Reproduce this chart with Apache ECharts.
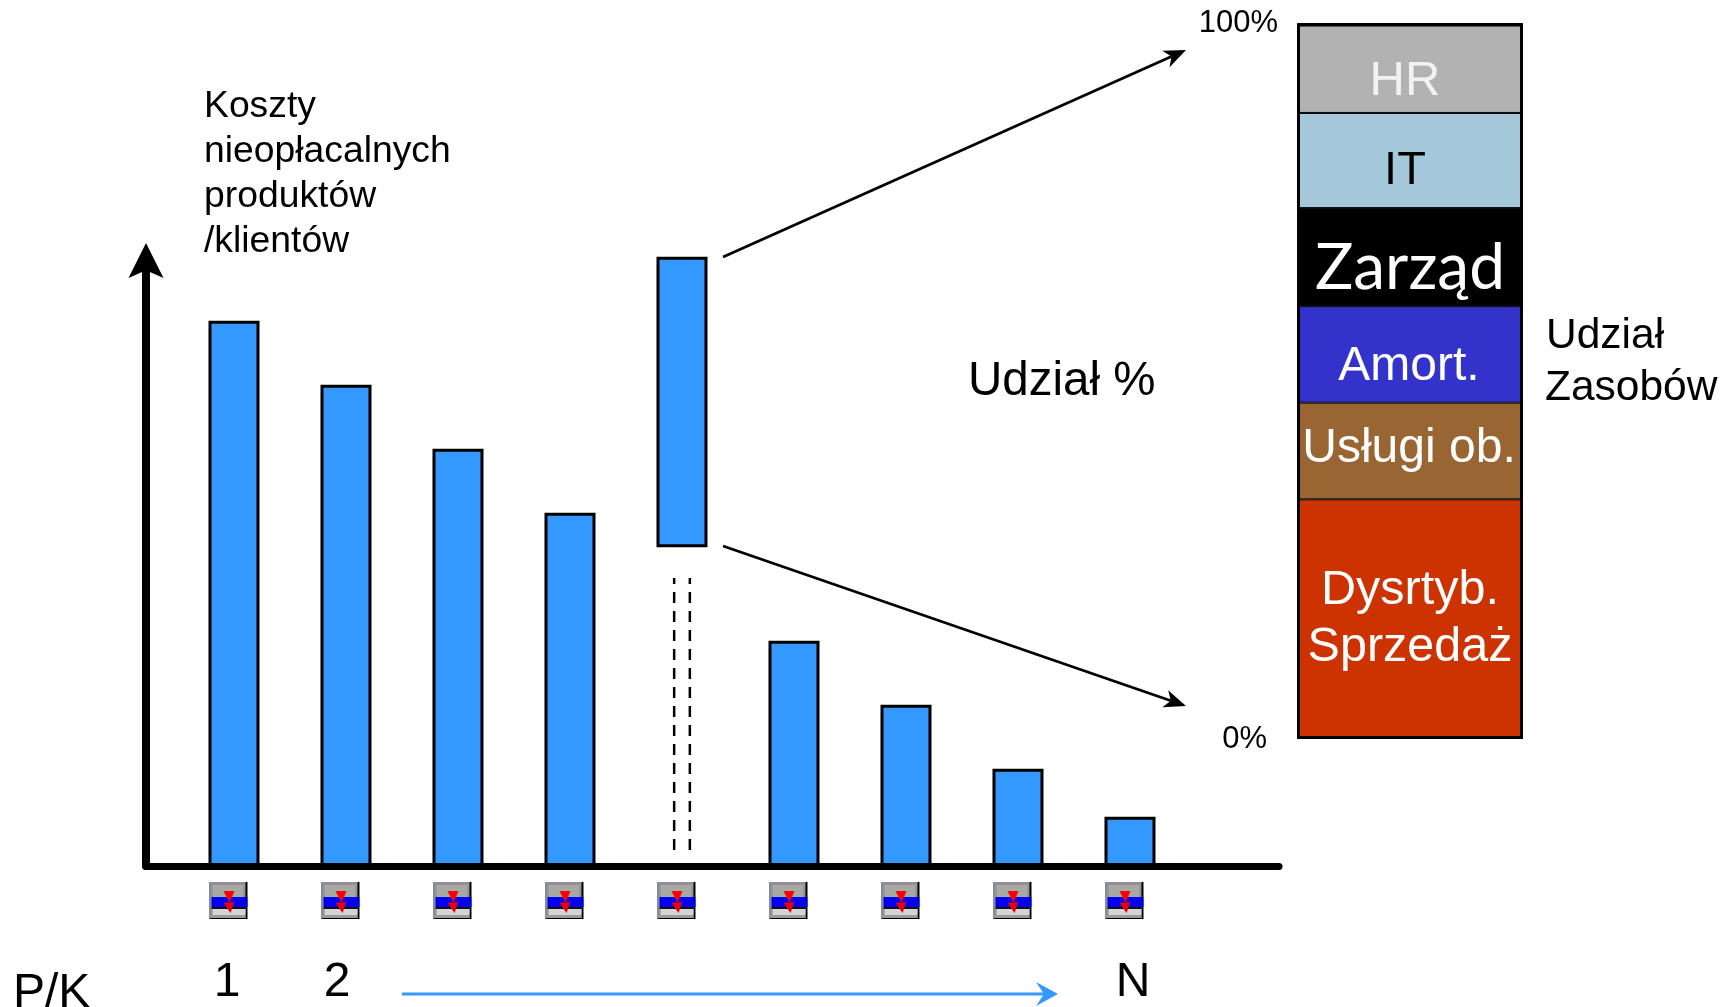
<!DOCTYPE html>
<html><head><meta charset="utf-8">
<style>html,body{margin:0;padding:0;background:#fff}#c{width:1725px;height:1007px}</style>
<script src="https://cdn.jsdelivr.net/npm/echarts@6/dist/echarts.min.js"></script>
</head><body><div id="c"></div>
<script>
const positions = [1,2,3,4,5,6,7,8,9];
const offsetBase = [0,0,0,0,49.8,0,0,0,0];
const costs = [85.2,75.2,65.2,55.2,45.4,35.2,25.2,15.2,7.7];
const dashA = [[4.93,2.5],[4.93,45]];
const dashB = [[5.07,2.5],[5.07,45]];
const segNames = ['Dysrtyb.\nSprzedaż','Usługi ob.','Amort.','Zarząd','IT','HR'];
const segValues = [33.5,13.5,13.5,13.7,13.3,12.6];
const segColors = ['#cc3300','#996633','#3333cc','#000000','#a6c8db','#b2b2b2'];
const segText = ['#fff','#fff','#fff','#fff','#000','#f2f2f2'];
const segFont = [48.5,48,48,64,47,49];
const segFamily = ['Liberation Sans','Liberation Sans','Liberation Sans','Lato','Liberation Sans','Liberation Sans'];
const segOffset = [[0,0],[-1,-2],[-1,12],[0,11],[-5,11],[-5,14]];

const FF = 'Liberation Sans';
function txt(text,x,y,size,align,extra){
  return {type:'text',silent:true,z:10,style:Object.assign({text,x,y,fontSize:size,fontFamily:FF,fill:'#000',
    textAlign:align||'left',textVerticalAlign:'middle'},extra||{})};
}
function arrow(x1,y1,x2,y2,color,lw,len,half,notch){
  const a=Math.atan2(y2-y1,x2-x1),c=Math.cos(a),s=Math.sin(a);
  const bx=x2-len*c,by=y2-len*s,nx=x2-notch*c,ny=y2-notch*s;
  return [
    {type:'line',silent:true,shape:{x1,y1,x2:nx,y2:ny},style:{stroke:color,lineWidth:lw}},
    {type:'polygon',silent:true,shape:{points:[[x2,y2],[bx-half*s,by+half*c],[nx,ny],[bx+half*s,by-half*c]]},style:{fill:color}}
  ];
}
function icon(params,api){
  const p=api.coord([api.value(0),0]);
  const x=p[0]-24.5,y=p[1]+16;
  const r=(dx,dy,w,h,f)=>({type:'rect',shape:{x:x+dx,y:y+dy,width:w,height:h},style:{fill:f}});
  const t=(pts,f)=>({type:'polygon',shape:{points:pts.map(q=>[x+q[0],y+q[1]])},style:{fill:f}});
  return {type:'group',children:[
    r(0,0,38,37,'#000'),
    r(0,0,36,36,'#8f8f98'),
    r(3,3,31,12,'#a8a8a4'),
    r(2,15,36,10,'#0000f0'),
    r(2,25,34,2,'#111'),
    r(3,27,33,6,'#d4d4d4'),
    r(0,33,36,3,'#9a9a9a'),
    t([[14,9],[25,9],[20,21]],'#ff0000'),
    t([[14,21],[25,20],[21,31]],'#e80000')
  ]};
}
const stackSeries = segNames.map((n,i)=>({
  type:'bar',name:n,stack:'share',xAxisIndex:1,yAxisIndex:1,barWidth:'100%',
  data:[{value:segValues[i],name:n}],
  itemStyle:{color:segColors[i],borderColor:'#000',borderWidth:1},
  label:{show:true,position:'inside',offset:segOffset[i],formatter:n,color:segText[i],
    fontSize:segFont[i],fontFamily:segFamily[i],lineHeight:57}
}));
const option={
  animation:false,
  grid:[
    {left:146,top:262,width:1133,height:604},
    {left:1297,top:23.5,width:226,height:715.5}
  ],
  xAxis:[
    {type:'value',gridIndex:0,min:0.2143,max:10.3304,splitLine:{show:false},axisTick:{show:false},axisLabel:{show:false},
     axisLine:{show:true,lineStyle:{color:'#000',width:7}}},
    {type:'category',gridIndex:1,data:['Udział Zasobów'],axisLine:{show:false},axisTick:{show:false},axisLabel:{show:false}}
  ],
  yAxis:[
    {type:'value',gridIndex:0,min:0,max:94.375,splitLine:{show:false},axisTick:{show:false},axisLabel:{show:false},
     axisLine:{show:true,symbol:['none','path://M50 0 L100 100 L50 78 L0 100 Z'],symbolSize:[35,35],symbolOffset:[0,1.5],
       lineStyle:{color:'#000',width:8}}},
    {type:'value',gridIndex:1,min:0,max:100,interval:100,splitLine:{show:false},axisTick:{show:false},axisLine:{show:false},
     axisLabel:{show:true,margin:19,fontSize:31,fontFamily:FF,color:'#000',
       formatter:v=>v===0?'{z|0%}':'100%',rich:{z:{fontSize:31,fontFamily:FF,padding:[0,11,0,0]}}}}
  ],
  series:[
    {type:'bar',name:'base',stack:'cost',barWidth:51,clip:false,data:positions.map((x,i)=>[offsetBase[i],x]),encode:{x:1,y:0},
     itemStyle:{color:'transparent',borderWidth:0},silent:true},
    {type:'bar',name:'Koszty',stack:'cost',barWidth:51,clip:false,data:positions.map((x,i)=>[costs[i],x]),encode:{x:1,y:0},
     itemStyle:{color:'#3399ff',borderColor:'#000',borderWidth:3}},
    {type:'line',data:dashA,symbol:'none',lineStyle:{color:'#000',width:2.5,type:[11,8]}},
    {type:'line',data:dashB,symbol:'none',lineStyle:{color:'#000',width:2.5,type:[11,8]}},
    {type:'custom',clip:false,data:positions.map(x=>[x,0]),renderItem:icon,encode:{x:0,y:1},silent:true},
    ...stackSeries,
    {type:'bar',name:'Udział Zasobów',xAxisIndex:1,yAxisIndex:1,barWidth:'100%',barGap:'-100%',z:5,silent:true,
     data:[100],itemStyle:{color:'transparent',borderColor:'#000',borderWidth:3}}
  ],
  graphic:[
    ...arrow(723,257,1186,50,'#000',2.8,22,9,16),
    ...arrow(723,546,1186,706,'#000',2.8,22,9,16),
    ...arrow(402,994,1058,994,'#3399ff',3,22,12,14),
    txt('Koszty',204,107,37.3),
    txt('nieopłacalnych',204,152,37.3),
    txt('produktów',204,196.5,37.3),
    txt('/klientów',204,242,37.3),
    txt('Udział %',968,382,47.5),
    txt('Udział',1546,336,42.5),
    txt('Zasobów',1545,388,42.5),
    txt('P/K',13,994,48),
    txt('1',227,983,48,'center'),
    txt('2',337,983,48,'center'),
    txt('N',1133,983,48,'center')
  ]
};
echarts.init(document.getElementById('c'),null,{renderer:'canvas'}).setOption(option);
</script></body></html>
